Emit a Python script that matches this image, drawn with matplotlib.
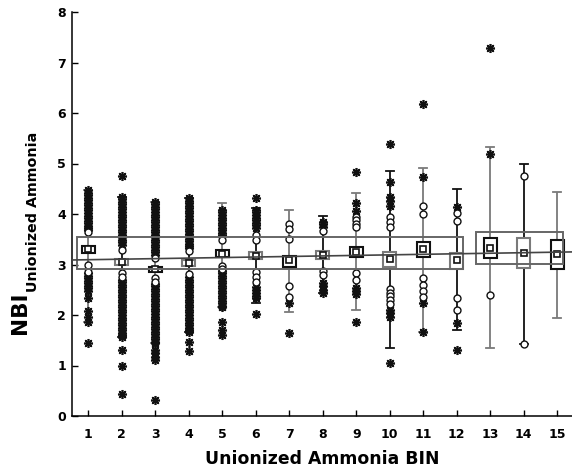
import matplotlib
matplotlib.use("Agg")
import matplotlib.pyplot as plt
from matplotlib.patches import Rectangle

# ---- data -------------------------------------------------------------
bins = list(range(1, 16))

means = [3.30, 3.05, 2.91, 3.02, 3.21, 3.17, 3.08, 3.19, 3.25, 3.10,
         3.31, 3.08, 3.32, 3.23, 3.20]
box_low = [3.23, 3.00, 2.86, 2.97, 3.15, 3.10, 2.96, 3.11, 3.15, 2.96,
           3.15, 2.92, 3.12, 2.94, 2.92]
box_high = [3.37, 3.11, 2.96, 3.08, 3.28, 3.25, 3.17, 3.27, 3.35, 3.25,
            3.45, 3.22, 3.52, 3.53, 3.49]
whisker_low = [1.87, 1.57, 1.44, 1.67, 2.16, 2.23, 2.05, 2.44, 2.09, 1.34,
               1.67, 1.70, 1.34, 1.42, 1.95]
whisker_high = [4.47, 4.34, 4.24, 4.31, 4.22, 4.11, 4.08, 3.96, 4.42, 4.86,
                4.92, 4.49, 5.32, 5.00, 4.44]

outliers = [
    [3.65, 2.99, 2.86],
    [3.29, 2.83, 2.76],
    [3.13, 2.73, 2.66],
    [3.27, 2.81],
    [3.49, 2.97, 2.92],
    [3.58, 3.49, 2.86, 2.76, 2.66],
    [3.80, 3.70, 3.50, 2.57, 2.35],
    [3.67, 2.88, 2.79],
    [3.95, 3.88, 3.81, 3.75, 2.84, 2.69],
    [3.95, 3.85, 3.74, 2.51, 2.44, 2.37, 2.29, 2.21],
    [4.16, 4.00, 2.73, 2.59, 2.48, 2.36],
    [4.01, 3.87, 2.33, 2.10],
    [2.40],
    [4.76, 1.42],
    [],
]

extremes = [
    [4.47, 4.42, 4.37, 4.32, 4.27, 4.22, 4.17, 4.12, 4.07, 4.02, 3.97,
     3.92, 3.87, 3.82, 3.77, 3.72, 3.68,
     2.83, 2.78, 2.73, 2.68, 2.63, 2.58, 2.53, 2.48, 2.33, 2.07, 1.97,
     1.87, 1.44],
    [4.75, 4.34, 4.29, 4.24, 4.19, 4.14, 4.09, 4.04, 3.99, 3.94, 3.89,
     3.84, 3.79, 3.74, 3.69, 3.64, 3.59, 3.54, 3.49, 3.44, 3.39,
     2.70, 2.65, 2.60, 2.55, 2.50, 2.45, 2.40, 2.35, 2.30, 2.25, 2.20,
     2.15, 2.10, 2.05, 2.00, 1.95, 1.90, 1.85, 1.80, 1.75, 1.70, 1.65,
     1.60, 1.57, 1.31, 1.00, 0.44],
    [4.24, 4.19, 4.14, 4.09, 4.04, 3.99, 3.94, 3.89, 3.84, 3.79, 3.74,
     3.69, 3.64, 3.59, 3.54, 3.49, 3.44, 3.39, 3.34, 3.29, 3.24, 3.19,
     2.62, 2.57, 2.52, 2.47, 2.42, 2.37, 2.32, 2.27, 2.22, 2.17, 2.12,
     2.07, 2.02, 1.97, 1.92, 1.87, 1.82, 1.77, 1.72, 1.67, 1.62, 1.57,
     1.52, 1.47, 1.44, 1.31, 1.24, 1.17, 1.11, 0.32],
    [4.31, 4.26, 4.21, 4.16, 4.11, 4.06, 4.01, 3.96, 3.91, 3.86, 3.81,
     3.76, 3.71, 3.66, 3.61, 3.56, 3.51, 3.46, 3.41, 3.36, 3.32,
     2.75, 2.70, 2.65, 2.60, 2.55, 2.50, 2.45, 2.40, 2.35, 2.30, 2.25,
     2.20, 2.15, 2.10, 2.05, 2.00, 1.95, 1.90, 1.85, 1.80, 1.75, 1.70,
     1.67, 1.47, 1.29],
    [4.08, 4.03, 3.98, 3.93, 3.88, 3.83, 3.78, 3.73, 3.68, 3.63, 3.58,
     2.88, 2.83, 2.78, 2.73, 2.68, 2.63, 2.58, 2.53, 2.48, 2.43, 2.38,
     2.33, 2.28, 2.23, 2.18, 2.16, 1.87, 1.70, 1.60],
    [4.31, 4.08, 4.03, 3.98, 3.93, 3.88, 3.83, 3.78, 3.72,
     2.56, 2.50, 2.44, 2.38, 2.33, 2.02],
    [2.24, 1.64],
    [3.85, 3.80, 3.74, 2.63, 2.57, 2.50, 2.44],
    [4.84, 4.22, 4.05, 2.53, 2.47, 2.42, 1.87],
    [5.38, 4.64, 4.34, 4.25, 4.16, 2.10, 2.03, 1.97, 1.04],
    [6.18, 4.74, 2.23, 1.67],
    [4.14, 1.85, 1.31],
    [7.28, 5.18],
    [],
    [],
]

# grouped summary bands (bins 1-12 and 13-15)
group_left = [0.65, 12.58]
group_right = [12.18, 15.17]
group_low = [2.905, 3.01]
group_high = [3.55, 3.65]

# linear trend of NBI across bins
trend_intercept = 3.084
trend_slope = 0.0107

x_ticks = bins
y_ticks = [0, 1, 2, 3, 4, 5, 6, 7, 8]

# ---- drawing ----------------------------------------------------------
plt.rcParams["font.family"] = ["DejaVu Sans"]
plt.rcParams["font.weight"] = "bold"

W, H = 572, 471
fig = plt.figure(figsize=(W / 100, H / 100), dpi=100)
ax = fig.add_axes([71.5 / W, 55 / H, 502.5 / W, 404 / H])

GRAY = "#7a7a7a"
DARK = "#111111"
box_w = 0.39
cap_w = 0.24

for i, b in enumerate(bins):
    odd = (b % 2 == 1)
    wcol = GRAY if odd else DARK
    bcol = DARK if odd else GRAY
    ax.plot([b, b], [whisker_low[i], whisker_high[i]], color=wcol, lw=1.3,
            zorder=2, solid_capstyle="butt")
    for yv in (whisker_low[i], whisker_high[i]):
        ax.plot([b - cap_w / 2, b + cap_w / 2], [yv, yv], color=wcol,
                lw=1.3, zorder=2)
    ax.add_patch(Rectangle((b - box_w / 2, box_low[i]), box_w,
                           box_high[i] - box_low[i], facecolor="white",
                           edgecolor=bcol, lw=1.5, zorder=4))
    if extremes[i]:
        ax.plot([b] * len(extremes[i]), extremes[i], linestyle="none",
                marker=(8, 2, 0), markersize=6.5, markeredgewidth=1.2,
                color="#111111", zorder=3)
    if outliers[i]:
        ax.plot([b] * len(outliers[i]), outliers[i], linestyle="none",
                marker="o", markersize=5, markerfacecolor="white",
                markeredgecolor="#111111", markeredgewidth=1.0, zorder=3.5)

ax.plot(bins, means, linestyle="none", marker="s", markersize=5,
        markerfacecolor="white", markeredgecolor="#111111",
        markeredgewidth=1.2, zorder=5)

for gl, gr, lo, hi in zip(group_left, group_right, group_low, group_high):
    ax.add_patch(Rectangle((gl, lo), gr - gl, hi - lo, fill=False,
                           edgecolor="#666666", lw=1.4, zorder=6))

x0, x1 = 0.5, 15.5
ax.plot([x0, x1], [trend_intercept + trend_slope * x0,
                   trend_intercept + trend_slope * x1],
        color="#444444", lw=1.2, zorder=6)

ax.set_xlim(x0, x1)
ax.set_ylim(0, 8)
ax.set_xticks(x_ticks)
ax.set_yticks(y_ticks)
for s in ("top", "right"):
    ax.spines[s].set_visible(False)
for s in ("left", "bottom"):
    ax.spines[s].set_linewidth(1.1)
ax.tick_params(axis="both", direction="in", length=4, width=1.0,
               labelsize=9)
ax.tick_params(axis="x", pad=9)
ax.tick_params(axis="y", pad=4)
for lab in ax.get_xticklabels() + ax.get_yticklabels():
    lab.set_fontweight("bold")

fig.text(322 / W, (H - 464) / H, "Unionized Ammonia BIN", ha="center",
         va="baseline", fontsize=12.4, fontweight="bold")

fig.text(26 / W, (H - 292) / H, "NBI", rotation=90, rotation_mode="anchor",
         ha="right", va="baseline", fontsize=15.5, fontweight="bold")
fig.text(37 / W, (H - 292) / H, "Unionized Ammonia", rotation=90,
         rotation_mode="anchor", ha="left", va="baseline", fontsize=10.3,
         fontweight="bold")

fig.savefig("out.png", dpi=100)
